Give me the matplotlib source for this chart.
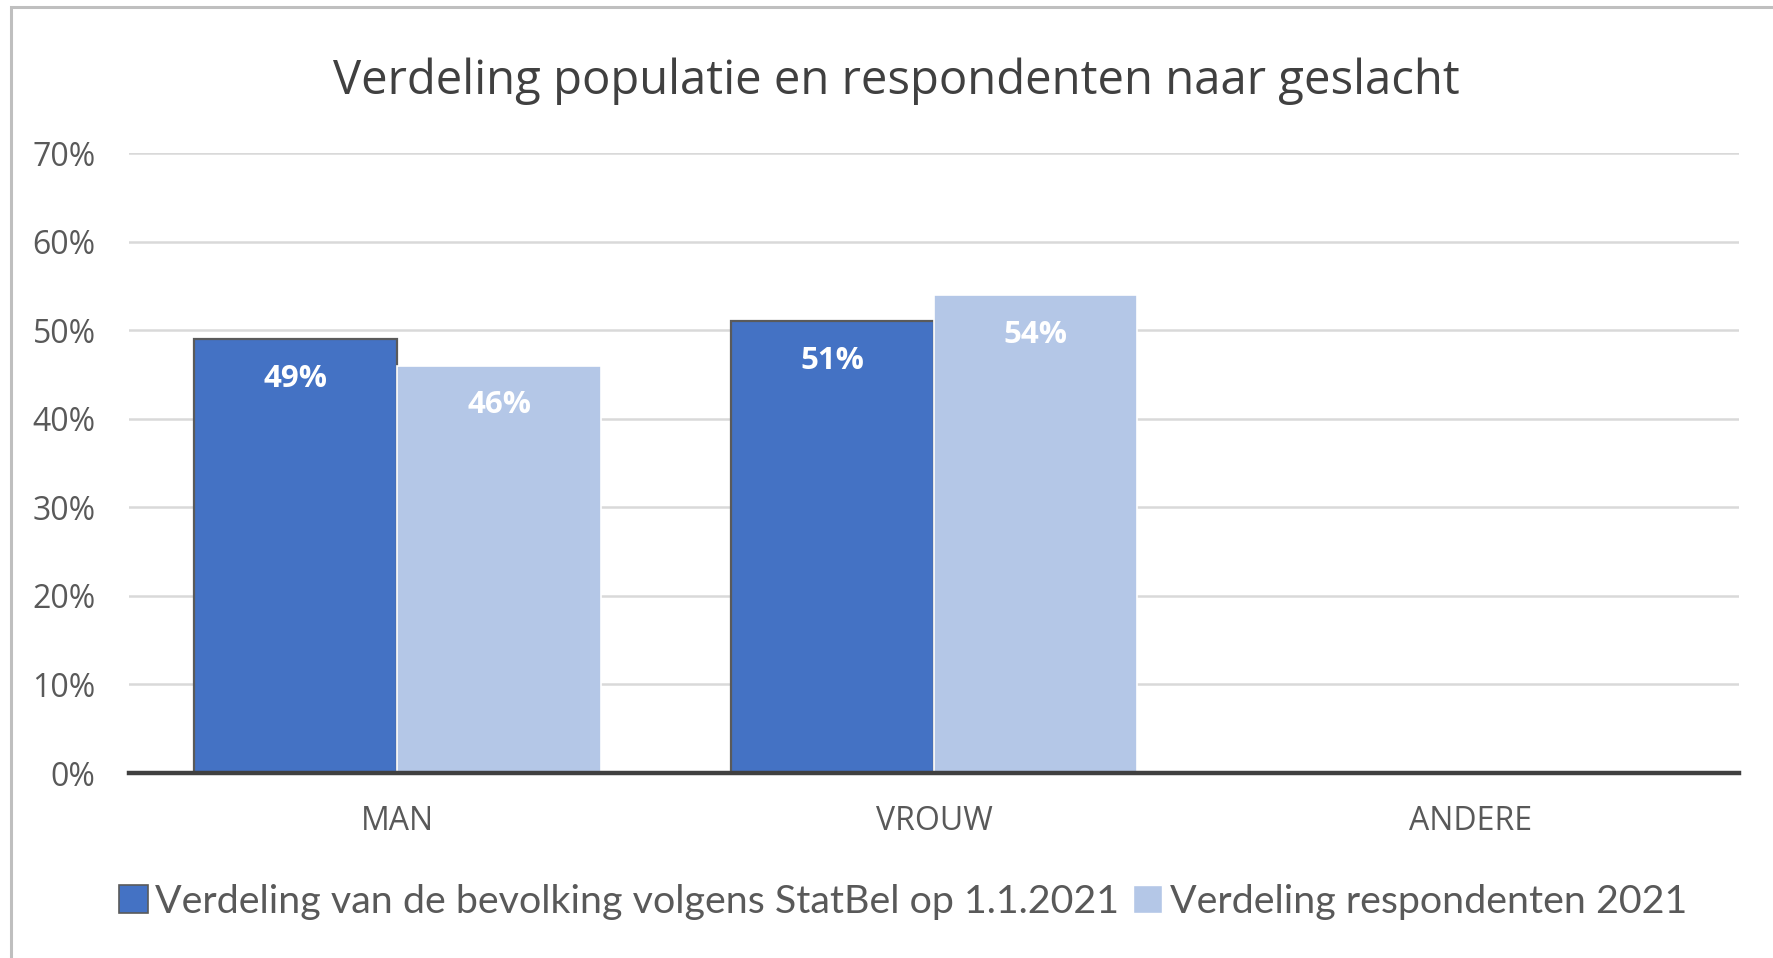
import matplotlib
matplotlib.use("Agg")
import matplotlib.pyplot as plt
from matplotlib.patches import Patch
import numpy as np

categories = ["MAN", "VROUW", "ANDERE"]
series_names = ["Verdeling van de bevolking volgens StatBel op 1.1.2021",
                "Verdeling respondenten 2021"]
bevolking = [0.49, 0.51, None]
respondenten = [0.46, 0.54, None]
yticks = [0.0, 0.1, 0.2, 0.3, 0.4, 0.5, 0.6, 0.7]
ytick_labels = ["0%", "10%", "20%", "30%", "40%", "50%", "60%", "70%"]

c_dark = "#4472C4"
c_light = "#B4C7E7"
txt = "#595959"

W, H = 1773, 958
fig = plt.figure(figsize=(W / 100, H / 100), dpi=100)
ax = fig.add_axes([129 / W, 1 - 773 / H, (1739 - 129) / W, (773 - 153) / H])

x = np.arange(len(categories))
bw = 0.379
for i, (a, b) in enumerate(zip(bevolking, respondenten)):
    if a is not None:
        ax.bar(x[i] - bw / 2, a, bw, color=c_dark, edgecolor="#5a5a5a", linewidth=1.6, zorder=3)
        ax.text(x[i] - bw / 2, a - 0.045, f"{round(a*100)}%", ha="center", va="center",
                color="white", fontsize=22.5, fontweight="bold", family="Open Sans", zorder=4)
    if b is not None:
        ax.bar(x[i] + bw / 2, b, bw, color=c_light, edgecolor="white", linewidth=1.2, zorder=3)
        ax.text(x[i] + bw / 2, b - 0.045, f"{round(b*100)}%", ha="center", va="center",
                color="white", fontsize=22.5, fontweight="bold", family="Open Sans", zorder=4)

ax.set_xlim(-0.5, 2.5)
ax.set_ylim(0, 0.70)
ax.set_yticks(yticks)
ax.set_yticklabels(ytick_labels, family="Open Sans", fontsize=23, color=txt)
ax.set_xticks(x)
ax.set_xticklabels(categories, family="Open Sans", fontsize=23, color=txt)
ax.tick_params(axis="both", length=0)
ax.tick_params(axis="y", pad=24)
ax.tick_params(axis="x", pad=23)
ax.yaxis.grid(True, color="#D9D9D9", linewidth=1.8, zorder=0)
ax.set_axisbelow(True)
for s in ["top", "right", "left"]:
    ax.spines[s].set_visible(False)
ax.spines["bottom"].set_color("#404040")
ax.spines["bottom"].set_linewidth(3.2)
ax.spines["bottom"].set_zorder(5)

fig.text(896 / W, 1 - 81 / H, "Verdeling populatie en respondenten naar geslacht",
         ha="center", va="center", fontsize=34, color="#404040", family="Open Sans")

handles = [Patch(facecolor=c_dark, edgecolor="#5a5a5a", linewidth=1.2),
           Patch(facecolor=c_light, edgecolor="white")]
leg = fig.legend(handles, series_names, loc="center", bbox_to_anchor=(903 / W, 1 - 902 / H),
                 ncol=2, frameon=False, prop={"family": "Lato", "size": 28.4},
                 handlelength=0.72, handleheight=0.72, handletextpad=0.2, columnspacing=0.35,
                 labelcolor=txt)

# outer border (left and top visible)
fig.patches.append(plt.Rectangle((11 / W, -0.1), 1.2, 1 - 7 / H + 0.1, transform=fig.transFigure,
                                 fill=False, edgecolor="#BFBFBF", linewidth=2.2))

fig.savefig("out.png", dpi=100, facecolor="white")
